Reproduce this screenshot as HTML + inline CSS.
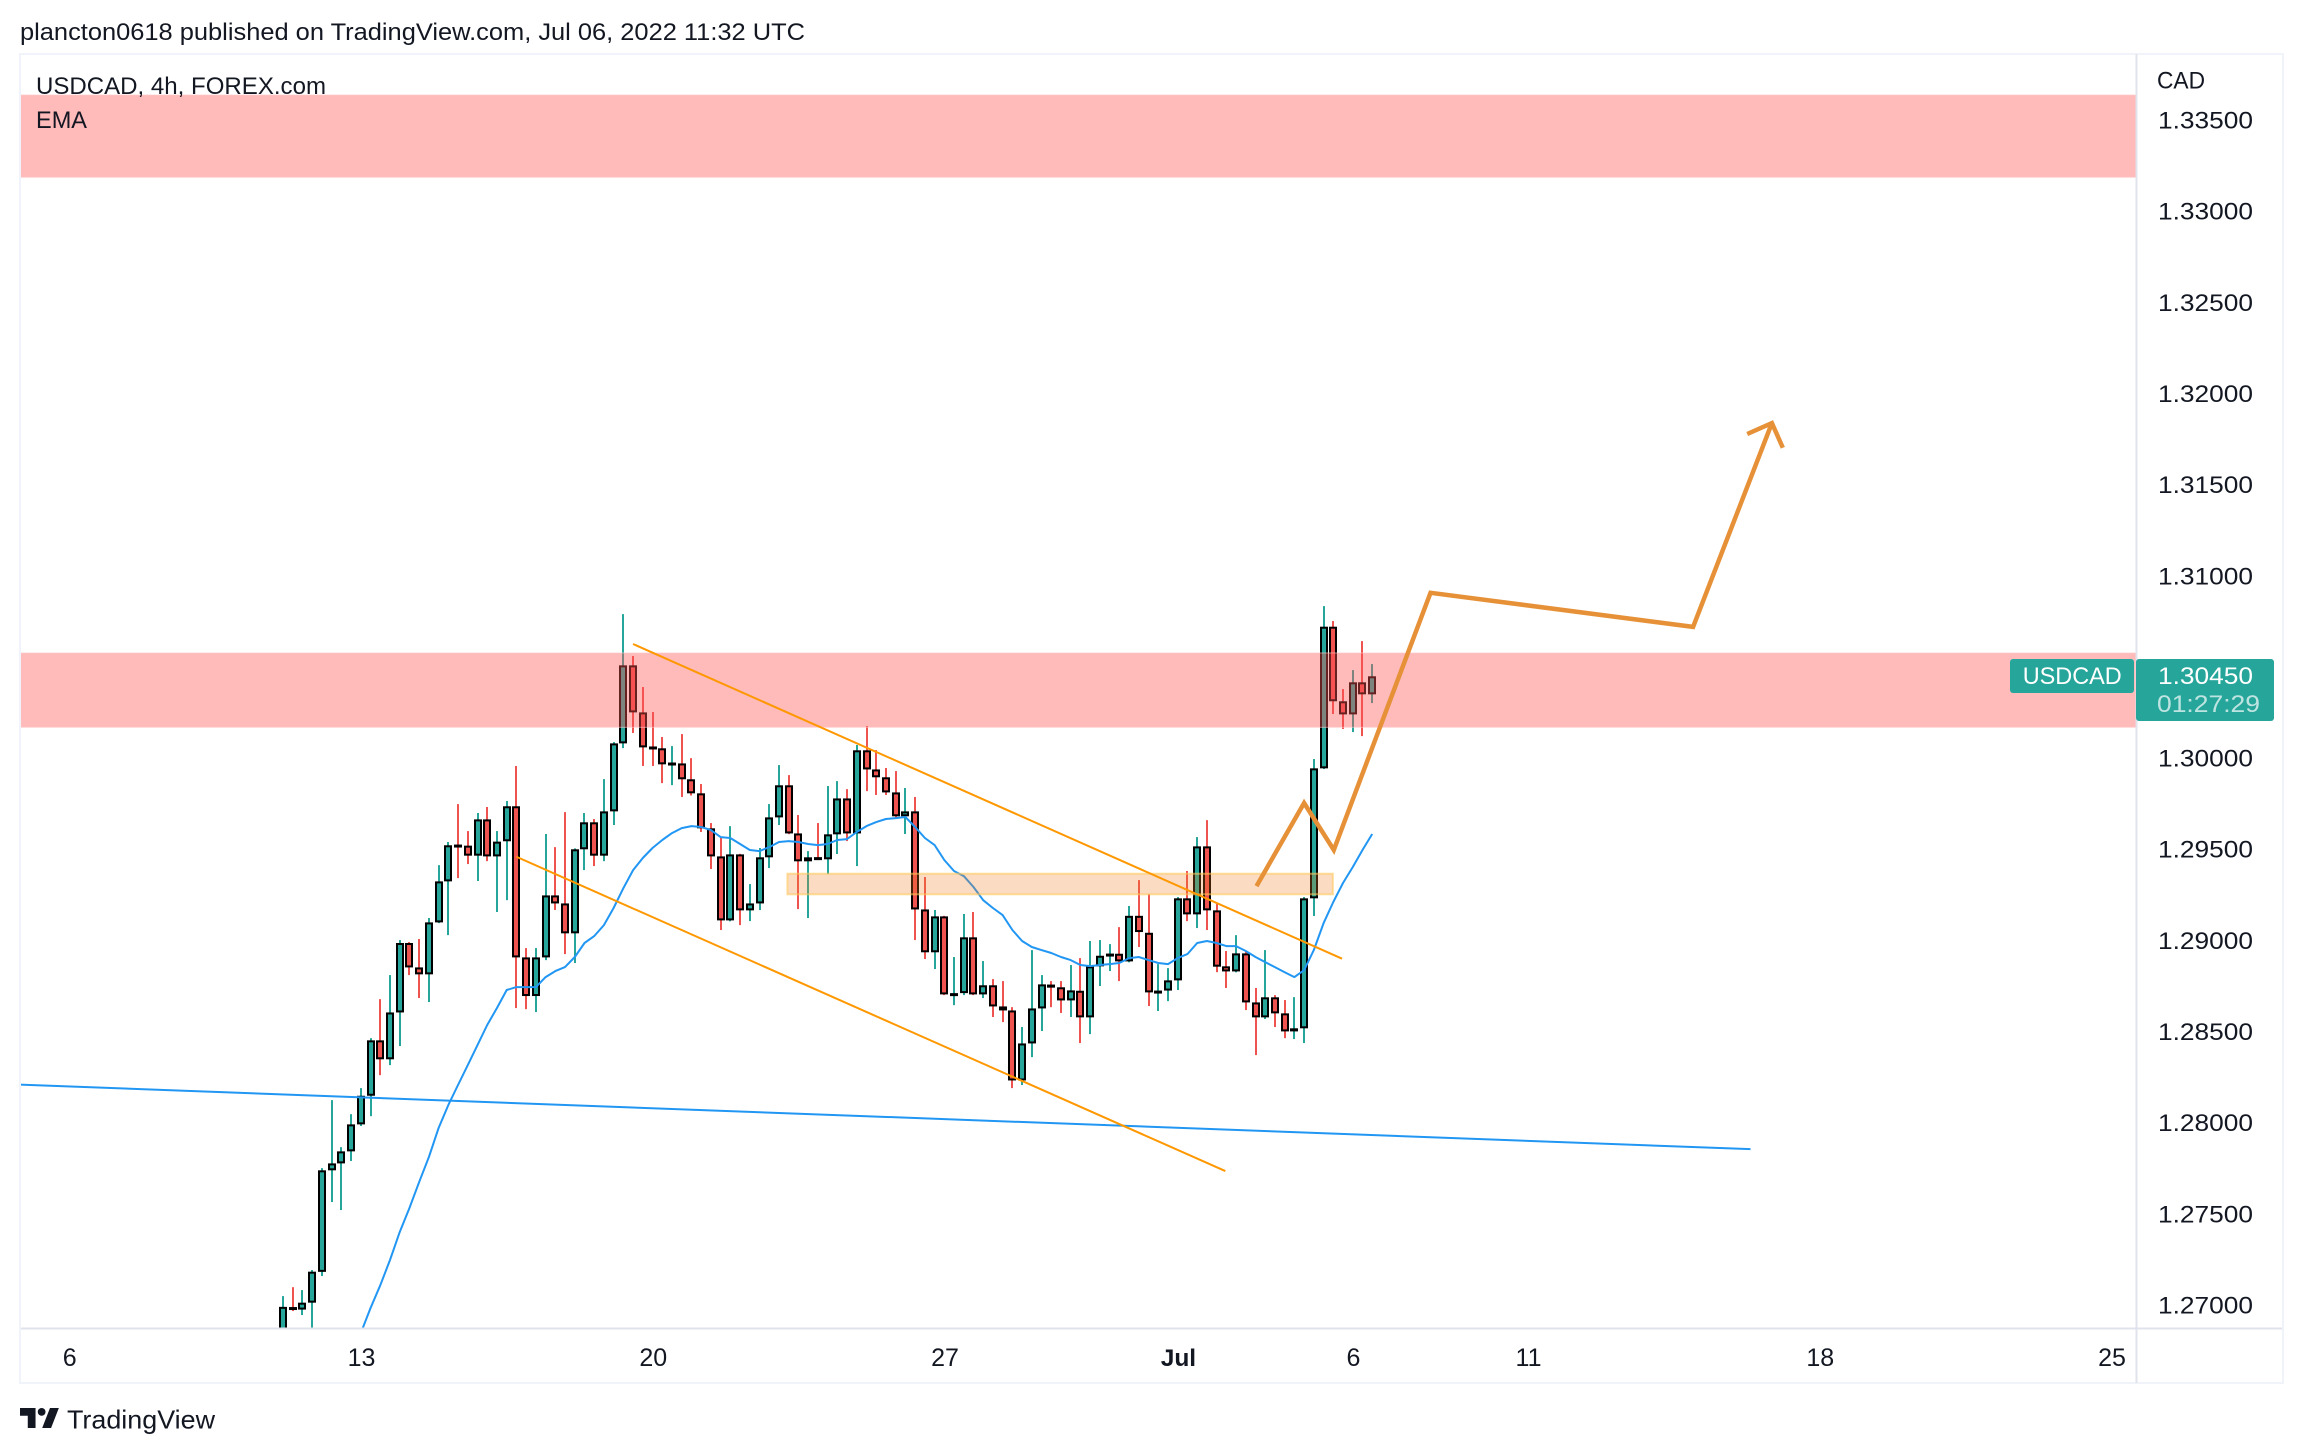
<!DOCTYPE html>
<html lang="en">
<head>
<meta charset="utf-8">
<title>USDCAD 4h chart</title>
<style>
html,body{margin:0;padding:0;background:#fff;width:2304px;height:1454px;overflow:hidden}
svg{display:block;font-family:"Liberation Sans",sans-serif}
text{fill:#131722}
</style>
</head>
<body>
<svg id="chart" xmlns="http://www.w3.org/2000/svg" width="2304" height="1454" viewBox="0 0 2304 1454">
  <defs><clipPath id="pane-clip"><rect x="20" y="55" width="2116" height="1273"/></clipPath></defs>
  <rect x="0" y="0" width="2304" height="1454" fill="#ffffff"/>
  <text x="20" y="40" font-size="24" textLength="785" lengthAdjust="spacingAndGlyphs">plancton0618 published on TradingView.com, Jul 06, 2022 11:32 UTC</text>
  <g id="pane" clip-path="url(#pane-clip)">
    <g id="candles"></g>
    <path id="ema" fill="none" stroke="#2196f3" stroke-width="2" stroke-linejoin="round"/>
    <g id="drawings"></g>
  </g>
  <rect x="20" y="54" width="2263" height="1329" fill="none" stroke="#f0f3fa" stroke-width="2"/>
  <line x1="2136.5" y1="54" x2="2136.5" y2="1383" stroke="#e0e3eb" stroke-width="2"/>
  <line x1="21" y1="1328.5" x2="2282" y2="1328.5" stroke="#e0e3eb" stroke-width="2"/>
  <g id="price-ticks"></g>
  <g id="time-ticks"></g>
  <text x="36" y="94" font-size="24" textLength="290" lengthAdjust="spacingAndGlyphs">USDCAD, 4h, FOREX.com</text>
  <text x="36" y="128" font-size="24" textLength="51" lengthAdjust="spacingAndGlyphs">EMA</text>
  <text x="2157" y="88.5" font-size="24" textLength="48" lengthAdjust="spacingAndGlyphs">CAD</text>
  <rect x="2010" y="659" width="124" height="34" rx="3" fill="#26a69a"/>
  <text x="2022.7" y="684" font-size="24" textLength="99" lengthAdjust="spacingAndGlyphs" style="fill:#ffffff">USDCAD</text>
  <rect x="2136" y="659" width="138" height="62" rx="3" fill="#26a69a"/>
  <text id="last-price" x="2158" y="684" font-size="24.5" textLength="95" lengthAdjust="spacingAndGlyphs" style="fill:#ffffff"></text>
  <text x="2157" y="712" font-size="24.5" textLength="103" lengthAdjust="spacingAndGlyphs" style="fill:#ffffff;fill-opacity:.7">01:27:29</text>
  <g>
    <g transform="translate(20 1408) scale(1.11)" fill="#131722">
      <path d="M14 18H7V7H0V0H14Z"/><circle cx="19.5" cy="3.5" r="3.5"/><path d="M28 18H20L27 0H35Z"/>
    </g>
    <text x="67" y="1428.5" font-size="26" textLength="148" lengthAdjust="spacingAndGlyphs">TradingView</text>
  </g>
</svg>
<script>
const opens=[1.26758,1.26994,1.26980,1.27018,1.27187,1.27744,1.27782,1.27848,1.27996,1.28153,1.28457,1.28353,1.28610,1.28991,1.28857,1.28819,1.29104,1.29329,1.29531,1.29525,1.29470,1.29669,1.29466,1.29549,1.29741,1.28912,1.28700,1.28912,1.29252,1.29208,1.29044,1.29505,1.29653,1.29470,1.29713,1.30086,1.30514,1.30256,1.30069,1.30059,1.29967,1.29976,1.29889,1.29812,1.29620,1.29466,1.29115,1.29477,1.29170,1.29208,1.29461,1.29680,1.29856,1.29592,1.29439,1.29462,1.29450,1.29587,1.29784,1.29592,1.30048,1.29943,1.29900,1.29817,1.29686,1.29713,1.29175,1.28940,1.29137,1.28705,1.28716,1.29022,1.28709,1.28759,1.28643,1.28621,1.28237,1.28440,1.28632,1.28763,1.28748,1.28676,1.28729,1.28583,1.28863,1.28917,1.28932,1.28890,1.29140,1.29047,1.28716,1.28730,1.28786,1.29236,1.29148,1.29521,1.29170,1.28863,1.28835,1.28934,1.28665,1.28583,1.28693,1.28605,1.28506,1.28523,1.29236,1.29949,1.30726,1.30317,1.30245,1.30421,1.30355];
const closes=[1.26995,1.26980,1.27018,1.27188,1.27744,1.27782,1.27848,1.27996,1.28153,1.28457,1.28353,1.28610,1.28991,1.28857,1.28819,1.29104,1.29329,1.29527,1.29520,1.29470,1.29669,1.29466,1.29547,1.29741,1.28912,1.28700,1.28912,1.29252,1.29208,1.29044,1.29505,1.29653,1.29470,1.29713,1.30086,1.30514,1.30256,1.30064,1.30055,1.29971,1.29981,1.29889,1.29812,1.29620,1.29466,1.29115,1.29477,1.29170,1.29208,1.29461,1.29680,1.29856,1.29592,1.29439,1.29461,1.29449,1.29587,1.29784,1.29592,1.30048,1.29943,1.29900,1.29817,1.29686,1.29713,1.29175,1.28940,1.29137,1.28709,1.28716,1.29022,1.28709,1.28759,1.28643,1.28621,1.28237,1.28440,1.28632,1.28764,1.28746,1.28676,1.28731,1.28583,1.28863,1.28921,1.28933,1.28890,1.29140,1.29051,1.28720,1.28730,1.28786,1.29236,1.29148,1.29521,1.29170,1.28861,1.28835,1.28934,1.28665,1.28583,1.28693,1.28605,1.28506,1.28523,1.29236,1.29949,1.30726,1.30317,1.30245,1.30421,1.30355,1.30454];
const highs=[1.27054,1.27103,1.27087,1.27197,1.27756,1.28129,1.27871,1.28052,1.28195,1.28469,1.28683,1.28815,1.29007,1.28996,1.29013,1.29128,1.29418,1.29545,1.29753,1.29605,1.29704,1.29737,1.29605,1.29770,1.29962,1.28963,1.28963,1.29589,1.29517,1.29709,1.29510,1.29704,1.29671,1.29890,1.30093,1.30795,1.30565,1.30395,1.30258,1.30121,1.30071,1.30137,1.30005,1.29863,1.29649,1.29572,1.29632,1.29480,1.29314,1.29512,1.29753,1.29967,1.29912,1.29693,1.29495,1.29649,1.29852,1.29879,1.29835,1.30077,1.30181,1.30049,1.29951,1.29934,1.29841,1.29792,1.29353,1.29172,1.29140,1.28914,1.29150,1.29161,1.28892,1.28793,1.28782,1.28639,1.28530,1.28952,1.28815,1.28782,1.28782,1.28870,1.28908,1.29002,1.29007,1.28985,1.29078,1.29194,1.29336,1.29259,1.28875,1.28853,1.29243,1.29386,1.29572,1.29665,1.29205,1.28947,1.29034,1.28950,1.28744,1.28952,1.28705,1.28678,1.28694,1.29243,1.30000,1.30839,1.30757,1.30384,1.30488,1.30647,1.30521];
const lows=[1.26703,1.26972,1.26950,1.26785,1.27164,1.27570,1.27526,1.27795,1.27987,1.28041,1.28266,1.28321,1.28426,1.28815,1.28689,1.28667,1.29100,1.29034,1.29347,1.29424,1.29331,1.29440,1.29161,1.29226,1.28634,1.28628,1.28612,1.28897,1.29172,1.28930,1.28881,1.29391,1.29413,1.29440,1.29638,1.30060,1.30143,1.29962,1.29962,1.29868,1.29857,1.29792,1.29800,1.29600,1.29397,1.29062,1.29110,1.29089,1.29111,1.29172,1.29402,1.29638,1.29588,1.29177,1.29128,1.29446,1.29369,1.29479,1.29550,1.29413,1.29824,1.29803,1.29803,1.29676,1.29589,1.29007,1.28903,1.28848,1.28705,1.28650,1.28705,1.28705,1.28689,1.28585,1.28557,1.28195,1.28212,1.28365,1.28508,1.28639,1.28607,1.28585,1.28442,1.28491,1.28755,1.28837,1.28782,1.28885,1.28969,1.28645,1.28618,1.28672,1.28733,1.29111,1.29073,1.29062,1.28831,1.28744,1.28830,1.28623,1.28376,1.28574,1.28530,1.28469,1.28464,1.28442,1.29139,1.29945,1.30247,1.30165,1.30148,1.30126,1.30307];
const emaFirstBar=7;
const emaValues=[1.26714,1.26851,1.26988,1.27114,1.27252,1.27405,1.27537,1.27679,1.27817,1.27976,1.28102,1.28212,1.28321,1.28431,1.28541,1.28634,1.28733,1.28749,1.28749,1.28749,1.28804,1.28837,1.28859,1.28914,1.28991,1.29029,1.29089,1.29183,1.29292,1.29391,1.29457,1.29512,1.29556,1.29594,1.29621,1.29632,1.29627,1.29610,1.29572,1.29567,1.29534,1.29501,1.29495,1.29517,1.29545,1.29550,1.29545,1.29534,1.29528,1.29534,1.29556,1.29561,1.29600,1.29632,1.29654,1.29671,1.29676,1.29682,1.29627,1.29567,1.29528,1.29446,1.29386,1.29358,1.29298,1.29226,1.29183,1.29144,1.29062,1.29002,1.28969,1.28952,1.28936,1.28914,1.28897,1.28870,1.28864,1.28870,1.28875,1.28881,1.28908,1.28914,1.28897,1.28881,1.28875,1.28908,1.28930,1.28991,1.29002,1.28991,1.28974,1.28974,1.28947,1.28914,1.28886,1.28859,1.28831,1.28804,1.28842,1.28952,1.29100,1.29216,1.29320,1.29408,1.29501,1.29589];
const priceTicks=[1.335,1.33,1.325,1.32,1.315,1.31,1.305,1.3,1.295,1.29,1.285,1.28,1.275,1.27];
const priceTickLabels=["1.33500","1.33000","1.32500","1.32000","1.31500","1.31000","","1.30000","1.29500","1.29000","1.28500","1.28000","1.27500","1.27000"];
const timeTickBars=[-22,8,38,68,92,110,128,158,188];
const timeTickLabels=["6","13","20","27","Jul","6","11","18","25"];
const lastPrice=1.30450;
const resistanceTop=[1.33643,1.33191];
const resistanceMid=[1.30582,1.30174];
const supportZone=[51.87,107.95,1.29371,1.29258];
const channelUpper=[[36,1.30631],[108.9,1.28905]];
const channelLower=[[24,1.29464],[96.9,1.27740]];
const longTrend=[[-27.1,1.28214],[150.9,1.27860]];
const forecastPath=[[100.1,1.29303],[105,1.29759],[108.05,1.29501],[118,1.30912],[145,1.30725],[153.1,1.31843]];

const NS='http://www.w3.org/2000/svg';
function barX(i){return 283+9.725*i;}
function priceY(p){return 121+(1.335-p)*18230;}
function make(tag,parent,props){
  const el=document.createElementNS(NS,tag);
  for(const k in props){el.setAttribute(k,props[k]);}
  parent.appendChild(el);
  return el;
}

const candleGroup=document.getElementById('candles');
const GREEN='#26a69a',RED='#ef5350';
opens.forEach(function(o,i){
  const c=closes[i];
  const color=c>=o?GREEN:RED;
  const x=Math.round(barX(i));
  const top=priceY(Math.max(o,c));
  const bottom=priceY(Math.min(o,c));
  const h=Math.max(3,bottom-top);
  const wick=make('rect',candleGroup,{x:x-1,y:priceY(highs[i]),width:2,height:priceY(lows[i])-priceY(highs[i]),fill:color});
  
  
  const outline=make('rect',candleGroup,{x:x-4,y:top,width:8,height:h,fill:'#000000'});
  
  
  if(h>4){
    const fill=make('rect',candleGroup,{x:x-2,y:top+2,width:4,height:h-4,fill:color});
    
    
  }
});

document.getElementById('ema').setAttribute('d',emaValues.map(function(v,i){
  return (i?'L':'M')+barX(i+emaFirstBar).toFixed(1)+' '+priceY(v).toFixed(1);
}).join(' '));

const drawings=document.getElementById('drawings');
const bandTop=make('rect',drawings,{x:20,y:priceY(resistanceTop[0]),width:2116,height:priceY(resistanceTop[1])-priceY(resistanceTop[0]),fill:'rgba(255,82,82,.4)',stroke:'rgba(255,205,205,.6)','stroke-width':1});


const bandMid=make('rect',drawings,{x:20,y:priceY(resistanceMid[0]),width:2116,height:priceY(resistanceMid[1])-priceY(resistanceMid[0]),fill:'rgba(255,82,82,.4)',stroke:'rgba(255,205,205,.6)','stroke-width':1});


const zone=make('rect',drawings,{x:barX(supportZone[0]),y:priceY(supportZone[2]),width:barX(supportZone[1])-barX(supportZone[0]),height:priceY(supportZone[3])-priceY(supportZone[2]),fill:'rgba(240,125,30,.27)',stroke:'rgba(255,200,90,.6)','stroke-width':2});



function segment(parent,pts,color,width){
  return make('line',parent,{x1:barX(pts[0][0]),y1:priceY(pts[0][1]),x2:barX(pts[1][0]),y2:priceY(pts[1][1]),stroke:color,'stroke-width':width});
}
const trend=segment(drawings,longTrend,'#2196f3',2);


const upper=segment(drawings,channelUpper,'#ff9800',2);


const lower=segment(drawings,channelLower,'#ff9800',2);



const pts=forecastPath.map(function(a){return [barX(a[0]),priceY(a[1])];});
const n=pts.length;
const ang=Math.atan2(pts[n-2][1]-pts[n-1][1],pts[n-2][0]-pts[n-1][0]);
const tip=pts[n-1];
const wingA=[tip[0]+27*Math.cos(ang+Math.PI/4),tip[1]+27*Math.sin(ang+Math.PI/4)];
const wingB=[tip[0]+27*Math.cos(ang-Math.PI/4),tip[1]+27*Math.sin(ang-Math.PI/4)];
const path=make('path',drawings,{d:'M'+pts.map(function(p){return p[0].toFixed(1)+' '+p[1].toFixed(1);}).join(' L')+' M'+wingA.join(' ')+' L'+tip.join(' ')+' L'+wingB.join(' '),fill:'none',stroke:'#e69138','stroke-width':4.5,'stroke-linejoin':'miter'});



const priceGroup=document.getElementById('price-ticks');
priceTicks.forEach(function(p,i){
  if(!priceTickLabels[i]){return;}
  const t=make('text',priceGroup,{x:2158,y:priceY(p)+7.5,'font-size':24.5,textLength:95,lengthAdjust:'spacingAndGlyphs'});
  
  
  t.textContent=priceTickLabels[i];
});

const timeGroup=document.getElementById('time-ticks');
timeTickBars.forEach(function(b,i){
  const label=timeTickLabels[i];
  const t=make('text',timeGroup,{x:barX(b)+0.7,y:1366,'font-size':label==='Jul'?24.5:25,'text-anchor':'middle','font-weight':label==='Jul'?'bold':'normal'});
  
  
  t.textContent=label;
});

document.getElementById('last-price').textContent=lastPrice.toFixed(5);
</script>
</body>
</html>
